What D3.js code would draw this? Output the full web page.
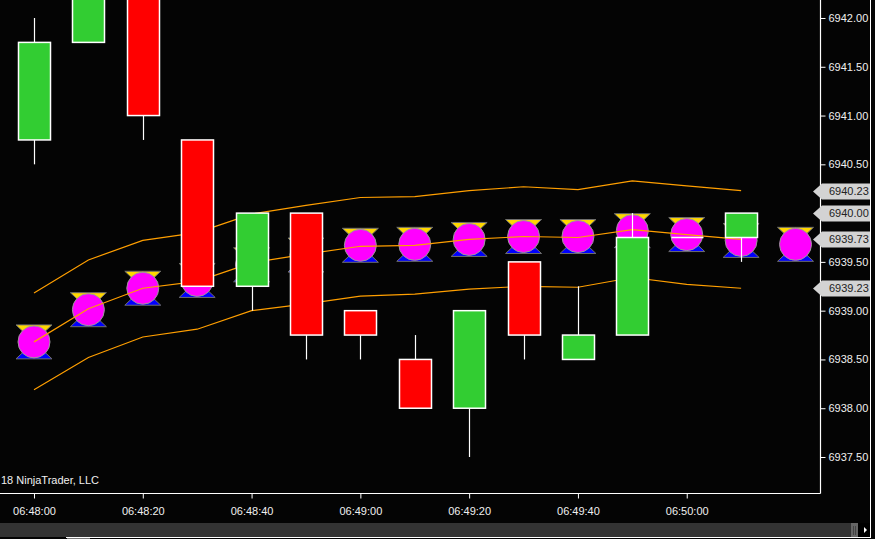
<!DOCTYPE html>
<html>
<head>
<meta charset="utf-8">
<script src="https://cdn.jsdelivr.net/npm/d3@7"></script>
<style>
  html, body { margin: 0; padding: 0; background: #000; }
  svg { display: block; }
  text { font-family: Arial, "Liberation Sans", sans-serif; }
</style>
</head>
<body>
<svg id="chart" width="875" height="539"></svg>
<script>
// ---- Data ----
const times   = ["06:48:00","06:48:10","06:48:20","06:48:30","06:48:40","06:48:50","06:49:00",
                 "06:49:10","06:49:20","06:49:30","06:49:40","06:49:50","06:50:00","06:50:10"];
const opens   = [6940.75, 6941.75, 6942.50, 6940.75, 6939.25, 6940.00, 6939.00,
                 6938.50, 6938.00, 6939.50, 6938.50, 6938.75, 6939.75, 6939.75];
const highs   = [6942.00, 6942.50, 6942.50, 6940.75, 6940.00, 6940.00, 6939.00,
                 6938.75, 6939.00, 6939.50, 6939.25, 6940.00, 6939.75, 6940.00];
const lows    = [6940.50, 6941.75, 6940.75, 6939.25, 6939.00, 6938.50, 6938.50,
                 6938.00, 6937.50, 6938.50, 6938.50, 6938.75, 6939.75, 6939.50];
const closes  = [6941.75, 6942.50, 6941.00, 6939.25, 6940.00, 6938.75, 6938.75,
                 6938.00, 6939.00, 6938.75, 6938.75, 6939.75, 6939.75, 6940.00];

const upperBand  = [6939.18, 6939.52, 6939.72, 6939.80, 6939.99, 6940.08, 6940.16,
                    6940.17, 6940.23, 6940.27, 6940.24, 6940.33, 6940.28, 6940.23];
const middleBand = [6938.68, 6939.02, 6939.23, 6939.30, 6939.49, 6939.58, 6939.66,
                    6939.67, 6939.73, 6939.76, 6939.75, 6939.83, 6939.78, 6939.73];
const lowerBand  = [6938.19, 6938.52, 6938.73, 6938.81, 6939.00, 6939.07, 6939.15,
                    6939.17, 6939.22, 6939.25, 6939.24, 6939.34, 6939.27, 6939.23];

const markerTimes  = ["06:48:00","06:48:10","06:48:20","06:48:30","06:48:40","06:48:50","06:49:00",
                      "06:49:10","06:49:20","06:49:30","06:49:40","06:49:50","06:50:00","06:50:10","06:50:20"];
const markerValues = [6938.68, 6939.01, 6939.23, 6939.31, 6939.47, 6939.57, 6939.67,
                      6939.68, 6939.73, 6939.76, 6939.76, 6939.82, 6939.78, 6939.72, 6939.68];

const priceTicks = [6937.5, 6938.0, 6938.5, 6939.0, 6939.5, 6940.0, 6940.5, 6941.0, 6941.5, 6942.0];
const timeTickLabels = ["06:48:00","06:48:20","06:48:40","06:49:00","06:49:20","06:49:40","06:50:00"];
const copyright = "18 NinjaTrader, LLC";

// ---- Helpers ----
const parseT = s => { const [h,m,sec] = s.split(":").map(Number); return new Date(2018,0,1,h,m,sec); };
const fmtT = d3.timeFormat("%H:%M:%S");

// ---- Layout ----
const W = 875, H = 539;
const plotRight = 820, plotBottom = 493;

const svg = d3.select("#chart");
svg.append("rect").attr("width", W).attr("height", H).attr("fill", "#040404");

// scales
const x = d3.scaleTime()
  .domain([new Date(2018,0,1,6,47,53,750), new Date(2018,0,1,6,50,24,500)])
  .range([0, plotRight]);
const y = d3.scaleLinear()
  .domain([6937.131, 6942.1845])
  .range([plotBottom, 0]);

const candles = times.map((t,i) => ({t: parseT(t), o: opens[i], h: highs[i], l: lows[i], c: closes[i]}));
const markers = markerTimes.map((t,i) => ({t: parseT(t), v: markerValues[i]}));

svg.append("defs").append("clipPath").attr("id","plotclip")
  .append("rect").attr("x",0).attr("y",0).attr("width",plotRight).attr("height",plotBottom);

const plot = svg.append("g").attr("clip-path","url(#plotclip)");

// markers
const mg = plot.append("g");
markers.forEach(m => {
  const cx = x(m.t), cy = y(m.v);
  const g = mg.append("g");
  g.append("path")
    .attr("d", `M${cx-18},${cy-17}L${cx+18},${cy-17}L${cx},${cy}Z`)
    .attr("fill", "#FFD700").attr("stroke", "#6e6e6e").attr("stroke-width", 1);
  g.append("path")
    .attr("d", `M${cx-18},${cy+17}L${cx+18},${cy+17}L${cx},${cy}Z`)
    .attr("fill", "#0000FF").attr("stroke", "#6e6e6e").attr("stroke-width", 1);
  g.append("circle").attr("cx", cx).attr("cy", cy).attr("r", 16)
    .attr("fill", "#FF00FF").attr("stroke", "#9a9a9a").attr("stroke-width", 1);
});

// bands
const lineGen = d3.line().x(d => x(d.t)).y(d => y(d.v));
[upperBand, middleBand, lowerBand].forEach(arr => {
  plot.append("path")
    .datum(times.map((t,i) => ({t: parseT(t), v: arr[i]})))
    .attr("d", lineGen)
    .attr("fill", "none").attr("stroke", "#FF9F00").attr("stroke-width", 1.2);
});

// candles
const bw = 32;
const cg = plot.append("g");
candles.forEach(d => {
  const cx = Math.round(x(d.t)) + 0.5;
  const top = Math.max(d.o, d.c), bot = Math.min(d.o, d.c);
  if (d.h > top) cg.append("line").attr("x1",cx).attr("x2",cx).attr("y1",y(d.h)).attr("y2",y(top))
    .attr("stroke","#fff").attr("stroke-width",1.2);
  if (d.l < bot) cg.append("line").attr("x1",cx).attr("x2",cx).attr("y1",y(bot)).attr("y2",y(d.l))
    .attr("stroke","#fff").attr("stroke-width",1.2);
  if (d.o === d.c) {
    cg.append("line").attr("x1",cx-bw/2).attr("x2",cx+bw/2).attr("y1",y(d.o)).attr("y2",y(d.o))
      .attr("stroke","#fff").attr("stroke-width",1.5);
  } else {
    cg.append("rect").attr("x", cx-bw/2).attr("y", y(top)).attr("width", bw).attr("height", y(bot)-y(top))
      .attr("fill", d.c > d.o ? "#32CD32" : "#FF0000").attr("stroke","#fff").attr("stroke-width",1.5);
  }
});

// copyright
svg.append("text").attr("x", 1).attr("y", 484).attr("fill", "#f0f0f0")
  .attr("font-size", "11px").text(copyright);

// axes
const yAxis = d3.axisRight(y).tickValues(priceTicks).tickFormat(d3.format(".2f"))
  .tickSize(5).tickSizeOuter(0).tickPadding(3);
const yg = svg.append("g").attr("transform", `translate(${plotRight+0.5},0)`).call(yAxis);
yg.select(".domain").attr("stroke","#fff").attr("stroke-width",1.2).attr("d", `M0,0V${plotBottom+0.5}`);
yg.selectAll(".tick line").attr("stroke","#fff");
yg.selectAll(".tick text").attr("fill","#f0f0f0").attr("font-size","11px")
  .attr("font-family","Arial, 'Liberation Sans', sans-serif");

const xAxis = d3.axisBottom(x).tickValues(timeTickLabels.map(parseT)).tickFormat(fmtT)
  .tickSize(5).tickSizeOuter(0).tickPadding(9);
const xg = svg.append("g").attr("transform", `translate(0,${plotBottom+0.5})`).call(xAxis);
xg.select(".domain").attr("stroke","#fff").attr("stroke-width",1.2).attr("d", `M0,0H${plotRight+0.5}`);
xg.selectAll(".tick line").attr("stroke","#fff");
xg.selectAll(".tick text").attr("fill","#f0f0f0").attr("font-size","11px")
  .attr("font-family","Arial, 'Liberation Sans', sans-serif");

// price labels on right axis
const n = times.length - 1;
const priceLabels = [upperBand[n], closes[n], middleBand[n], lowerBand[n]];
const lg = svg.append("g");
priceLabels.forEach(v => {
  const cy = Math.round(y(v)) + 0.5;
  lg.append("path")
    .attr("d", `M813,${cy}L822,${cy-8}L870,${cy-8}L870,${cy+8}L822,${cy+8}Z`)
    .attr("fill", "#d3d3d3");
  lg.append("text").attr("x", 829).attr("y", cy).attr("dy","0.35em")
    .attr("fill","#222").attr("font-size","11px").text(d3.format(".2f")(v));
});

// scrollbar area
svg.append("rect").attr("x",0).attr("y",523).attr("width",871).attr("height",14).attr("fill","#333");
svg.append("rect").attr("x",851).attr("y",523).attr("width",7).attr("height",14).attr("fill","#666");
svg.append("line").attr("x1",853.5).attr("x2",853.5).attr("y1",526).attr("y2",535).attr("stroke","#444");
svg.append("line").attr("x1",855.5).attr("x2",855.5).attr("y1",526).attr("y2",535).attr("stroke","#444");
svg.append("rect").attr("x",858).attr("y",523).attr("width",12).attr("height",14).attr("fill","#000");
svg.append("path").attr("d","M864,527L867,530L864,533Z").attr("fill","#fff");
// outer frame lines
svg.append("line").attr("x1",870.5).attr("x2",870.5).attr("y1",0).attr("y2",538).attr("stroke","#fff");
svg.append("line").attr("x1",66).attr("x2",871).attr("y1",537.5).attr("y2",537.5).attr("stroke","#fff");
svg.append("rect").attr("x",67).attr("y",538).attr("width",23).attr("height",1).attr("fill","#777");
</script>
</body>
</html>
